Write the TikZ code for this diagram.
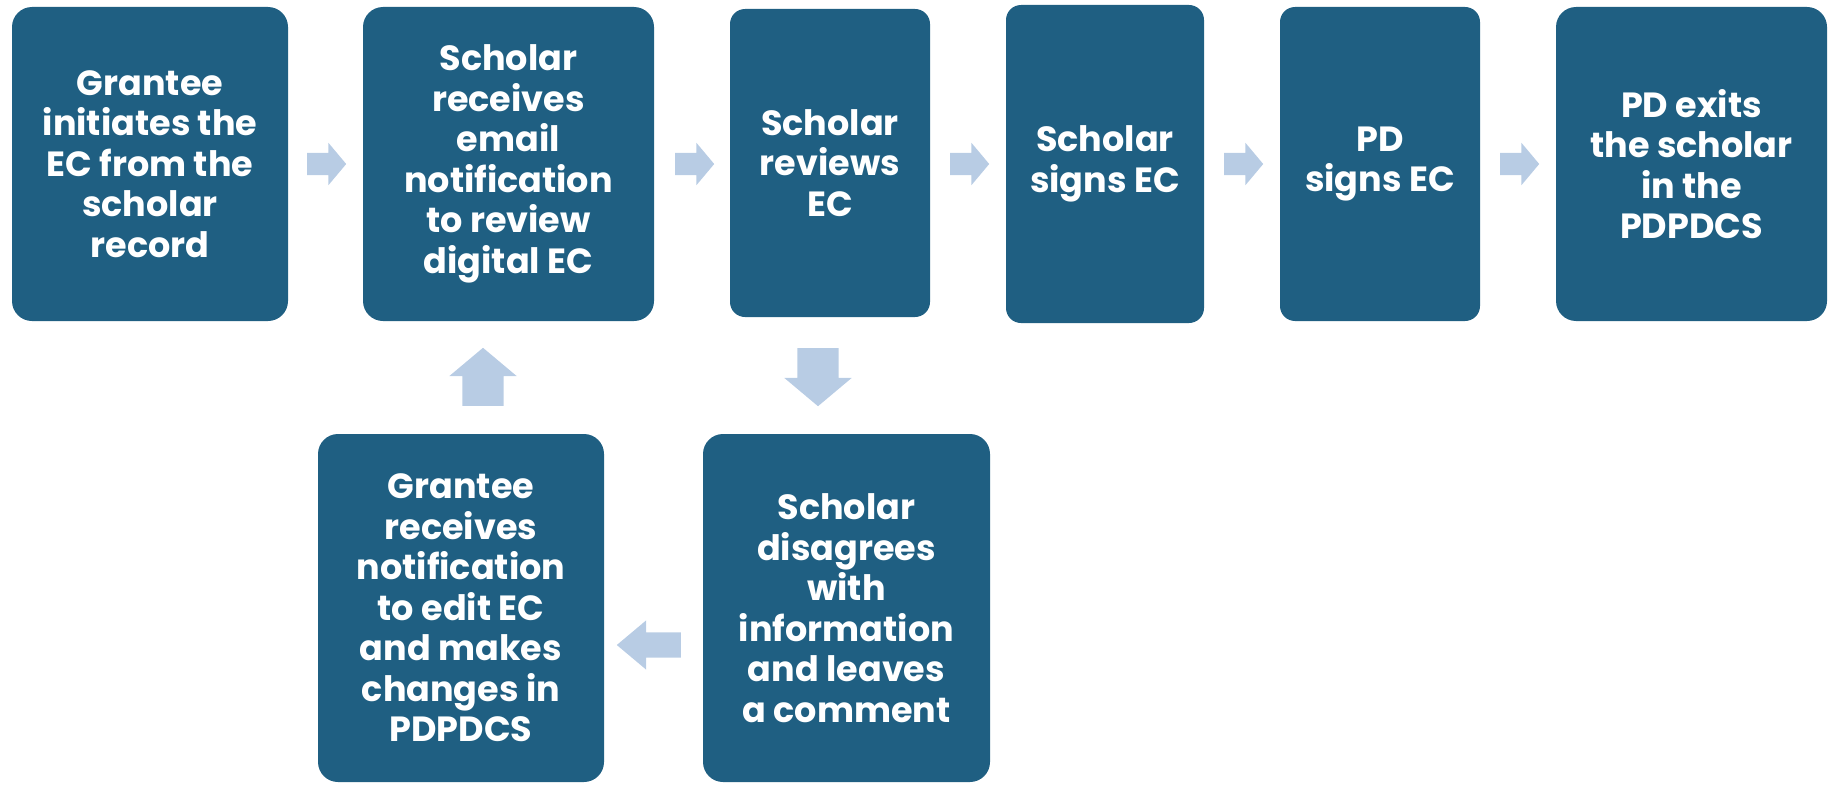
\documentclass[tikz,border=0pt]{standalone}
\usepackage{fontspec}
\setmainfont{Poppins}
\usetikzlibrary{shapes.arrows}
\definecolor{stepblue}{HTML}{1F5F82}
\definecolor{arrowblue}{HTML}{B8CCE4}
\tikzset{
  stepbox/.style={fill=stepblue, rounded corners=20pt, text=white, align=center,
    inner sep=0pt, font=\fontsize{35}{40.5}\selectfont\bfseries},
  flowarrow/.style={single arrow, fill=arrowblue, inner xsep=0pt, anchor=tail, single arrow tip angle=100}
}
\begin{document}
\begin{tikzpicture}[x=1pt, y=-1pt]
    \useasboundingbox (0,0) rectangle (1835,784);
    \node[stepbox, minimum width=276pt, minimum height=314pt] (initiate) at (150,164) {Grantee\\initiates the\\EC from the\\scholar\\record};
    \node[stepbox, minimum width=291pt, minimum height=314pt] (notify) at (508.5,164) {Scholar\\receives\\email\\notification\\to review\\digital EC};
    \node[stepbox, minimum width=200pt, minimum height=308pt, rounded corners=15pt] (review) at (830,163) {Scholar\\reviews\\EC};
    \node[stepbox, minimum width=198pt, minimum height=318pt, rounded corners=15pt] (ssign) at (1105,164) {Scholar\\signs EC};
    \node[stepbox, minimum width=200pt, minimum height=314pt, rounded corners=15pt] (pdsign) at (1380,164) {PD\\signs EC};
    \node[stepbox, minimum width=271pt, minimum height=314pt] (exit) at (1691.5,164) {PD exits\\the scholar\\in the\\PDPDCS};
    \node[stepbox, minimum width=286pt, minimum height=348pt] (edit) at (461,608) {Grantee\\receives\\notification\\to edit EC\\and makes\\changes in\\PDPDCS};
    \node[stepbox, minimum width=287pt, minimum height=348pt] (disagree) at (846.5,608) {Scholar\\disagrees\\with\\information\\and leaves\\a comment};
    \node[flowarrow, inner ysep=11pt, single arrow head extend=10pt, minimum height=39pt] (a12) at (307,164) {};
    \node[flowarrow, inner ysep=11pt, single arrow head extend=10pt, minimum height=39pt] (a23) at (675,164) {};
    \node[flowarrow, inner ysep=11pt, single arrow head extend=10pt, minimum height=39pt] (a34) at (950,164) {};
    \node[flowarrow, inner ysep=11pt, single arrow head extend=10pt, minimum height=39pt] (a45) at (1224,164) {};
    \node[flowarrow, inner ysep=11pt, single arrow head extend=10pt, minimum height=39pt] (a56) at (1500,164) {};
    \node[flowarrow, inner ysep=20.5pt, single arrow head extend=13pt, minimum height=58pt, rotate=-90] (adown) at (818,348) {};
    \node[flowarrow, inner ysep=20.5pt, single arrow head extend=13pt, minimum height=58pt, rotate=90] (aup) at (483,406) {};
    \node[flowarrow, inner ysep=12.5pt, single arrow head extend=12pt, minimum height=64pt, single arrow tip angle=80, rotate=180] (aleft) at (681,645) {};
\end{tikzpicture}
\end{document}
